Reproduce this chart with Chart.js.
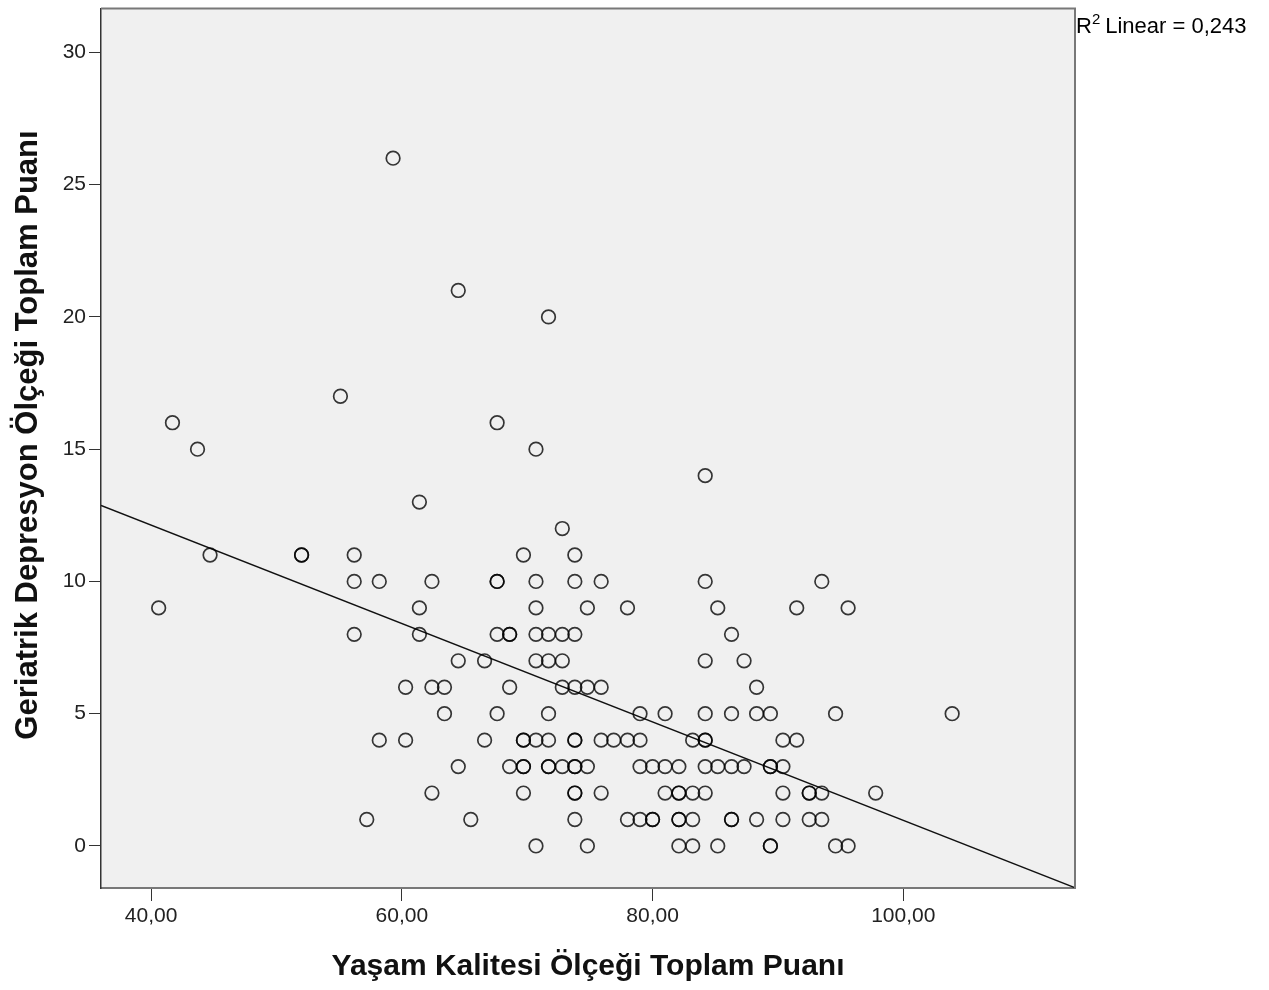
<!DOCTYPE html>
<html>
<head>
<meta charset="utf-8">
<script src="https://cdn.jsdelivr.net/npm/chart.js@4.4.1/dist/chart.umd.min.js"></script>
<style>
  html, body { margin: 0; padding: 0; background: #ffffff; }
  #wrap { width: 1269px; height: 990px; }
</style>
</head>
<body>
<div id="wrap"><canvas id="scatterChart" width="1269" height="990"></canvas></div>
<script>
// depression score levels and the quality-of-life scores seen at each level
var depressionLevels = [26, 21, 20, 17, 16, 15, 14, 13, 12, 11, 10, 9, 8, 7, 6, 5, 4, 3, 2, 1, 0];
var qolByLevel = [
  [59.3],
  [64.5],
  [71.7],
  [55.1],
  [41.7, 67.6],
  [43.7, 70.7],
  [84.2],
  [61.4],
  [72.8],
  [44.7, 52.0, 52.0, 56.2, 69.7, 73.8],
  [56.2, 58.2, 62.4, 67.6, 67.6, 70.7, 73.8, 75.9, 84.2, 93.5],
  [40.6, 61.4, 70.7, 74.8, 78.0, 85.2, 91.5, 95.6],
  [56.2, 61.4, 67.6, 68.6, 68.6, 70.7, 71.7, 72.8, 73.8, 86.3],
  [64.5, 66.6, 70.7, 71.7, 72.8, 84.2, 87.3],
  [60.3, 62.4, 63.4, 68.6, 72.8, 73.8, 74.8, 75.9, 88.3],
  [63.4, 67.6, 71.7, 79.0, 81.0, 84.2, 86.3, 88.3, 89.4, 94.6, 103.9],
  [58.2, 60.3, 66.6, 69.7, 69.7, 70.7, 71.7, 73.8, 73.8, 75.9, 76.9, 78.0, 79.0, 83.2, 84.2, 84.2, 90.4, 91.5],
  [64.5, 68.6, 69.7, 69.7, 71.7, 71.7, 72.8, 73.8, 73.8, 74.8, 79.0, 80.0, 81.0, 82.1, 84.2, 85.2, 86.3, 87.3, 89.4, 89.4, 90.4],
  [62.4, 69.7, 73.8, 73.8, 75.9, 81.0, 82.1, 82.1, 83.2, 84.2, 90.4, 92.5, 92.5, 93.5, 97.8],
  [57.2, 65.5, 73.8, 78.0, 79.0, 80.0, 80.0, 82.1, 82.1, 83.2, 86.3, 86.3, 88.3, 90.4, 92.5, 93.5],
  [70.7, 74.8, 82.1, 83.2, 85.2, 89.4, 89.4, 94.6, 95.6]
];

// fit line
var fitIntercept = 19.57;
var fitSlope = -0.186;
var r2Text = "0,243";

var xTicks = [40, 60, 80, 100];
var yTicks = [0, 5, 10, 15, 20, 25, 30];
var xMin = 36.0, xMax = 113.7;
var yMin = -1.59, yMax = 31.66;

var xTitle = "Yaşam Kalitesi Ölçeği Toplam Puanı";
var yTitle = "Geriatrik Depresyon Ölçeği Toplam Puanı";

var FONT = "Arial, 'Liberation Sans', sans-serif";

function buildPoints() {
  var pts = [];
  depressionLevels.forEach(function (lvl, i) {
    qolByLevel[i].forEach(function (q) {
      pts.push({ x: q, y: lvl });
    });
  });
  return pts;
}

function fitLine() {
  return [xMin, xMax].map(function (x) {
    return { x: x, y: fitIntercept + fitSlope * x };
  });
}

function noEdgePadding(scale) {
  scale.paddingTop = 0;
  scale.paddingBottom = 0;
  scale.paddingLeft = 0;
  scale.paddingRight = 0;
}

var plotDecor = {
  id: 'plotDecor',
  beforeDraw: function (chart) {
    var a = chart.chartArea, ctx = chart.ctx;
    ctx.save();
    ctx.fillStyle = '#f0f0f0';
    ctx.fillRect(a.left, a.top, a.right - a.left, a.bottom - a.top);
    ctx.restore();
  },
  afterDraw: function (chart) {
    var a = chart.chartArea, ctx = chart.ctx;
    ctx.save();
    ctx.strokeStyle = '#787878';
    ctx.lineWidth = 2;
    ctx.beginPath();
    ctx.moveTo(a.left, a.top);
    ctx.lineTo(a.right, a.top);
    ctx.lineTo(a.right, a.bottom);
    ctx.stroke();

    // y axis title, a little above the plot centre like the original
    ctx.save();
    ctx.translate(28, 435);
    ctx.rotate(-Math.PI / 2);
    ctx.fillStyle = '#111';
    ctx.font = 'bold 31px ' + FONT;
    ctx.textAlign = 'center';
    ctx.textBaseline = 'middle';
    ctx.fillText(yTitle, 0, 0);
    ctx.restore();

    // R squared label
    ctx.fillStyle = '#000';
    ctx.textBaseline = 'alphabetic';
    ctx.textAlign = 'left';
    var x = a.right + 1, y = 33;
    ctx.font = '22px ' + FONT;
    ctx.fillText('R', x, y);
    x += ctx.measureText('R').width;
    ctx.font = '15px ' + FONT;
    ctx.fillText('2', x, y - 9);
    x += ctx.measureText('2').width + 5;
    ctx.font = '22px ' + FONT;
    ctx.fillText('Linear = ' + r2Text, x, y);
    ctx.restore();
  }
};

var ctx = document.getElementById('scatterChart').getContext('2d');
var chart = new Chart(ctx, {
  type: 'scatter',
  data: {
    datasets: [{
      label: 'points',
      data: buildPoints(),
      pointStyle: 'circle',
      pointRadius: 6.8,
      pointBorderWidth: 1.7,
      pointBorderColor: 'rgba(0,0,0,0.78)',
      pointBackgroundColor: 'rgba(0,0,0,0)',
      pointHoverRadius: 6.8
    }, {
      label: 'fit',
      type: 'line',
      data: fitLine(),
      borderColor: '#111',
      borderWidth: 1.5,
      pointRadius: 0,
      fill: false
    }]
  },
  options: {
    responsive: false,
    animation: false,
    devicePixelRatio: 1,
    layout: { padding: { top: 8, right: 194, left: 0, bottom: 0 } },
    plugins: {
      legend: { display: false },
      tooltip: { enabled: false }
    },
    scales: {
      x: {
        type: 'linear',
        min: xMin,
        max: xMax,
        afterBuildTicks: function (scale) {
          scale.ticks = xTicks.map(function (v) { return { value: v }; });
        },
        afterFit: function (scale) { scale.height = 102; noEdgePadding(scale); },
        ticks: {
          color: '#222',
          font: { family: FONT, size: 21 },
          padding: 3,
          maxRotation: 0,
          callback: function (v) { return v.toFixed(2).replace('.', ','); }
        },
        grid: { drawOnChartArea: false, drawTicks: true, tickLength: 13, color: '#333' },
        border: { color: '#787878', width: 2 },
        title: {
          display: true,
          text: xTitle,
          color: '#111',
          font: { family: FONT, size: 30, weight: 'bold' },
          padding: { top: 0, bottom: 5 }
        }
      },
      y: {
        type: 'linear',
        min: yMin,
        max: yMax,
        afterBuildTicks: function (scale) {
          scale.ticks = yTicks.map(function (v) { return { value: v }; });
        },
        afterFit: function (scale) { scale.width = 101; noEdgePadding(scale); },
        ticks: {
          color: '#222',
          font: { family: FONT, size: 21 },
          padding: 3,
          callback: function (v) { return String(v); }
        },
        grid: { drawOnChartArea: false, drawTicks: true, tickLength: 12, color: '#333' },
        border: { color: '#333', width: 1.5 }
      }
    }
  },
  plugins: [plotDecor]
});
</script>
</body>
</html>
